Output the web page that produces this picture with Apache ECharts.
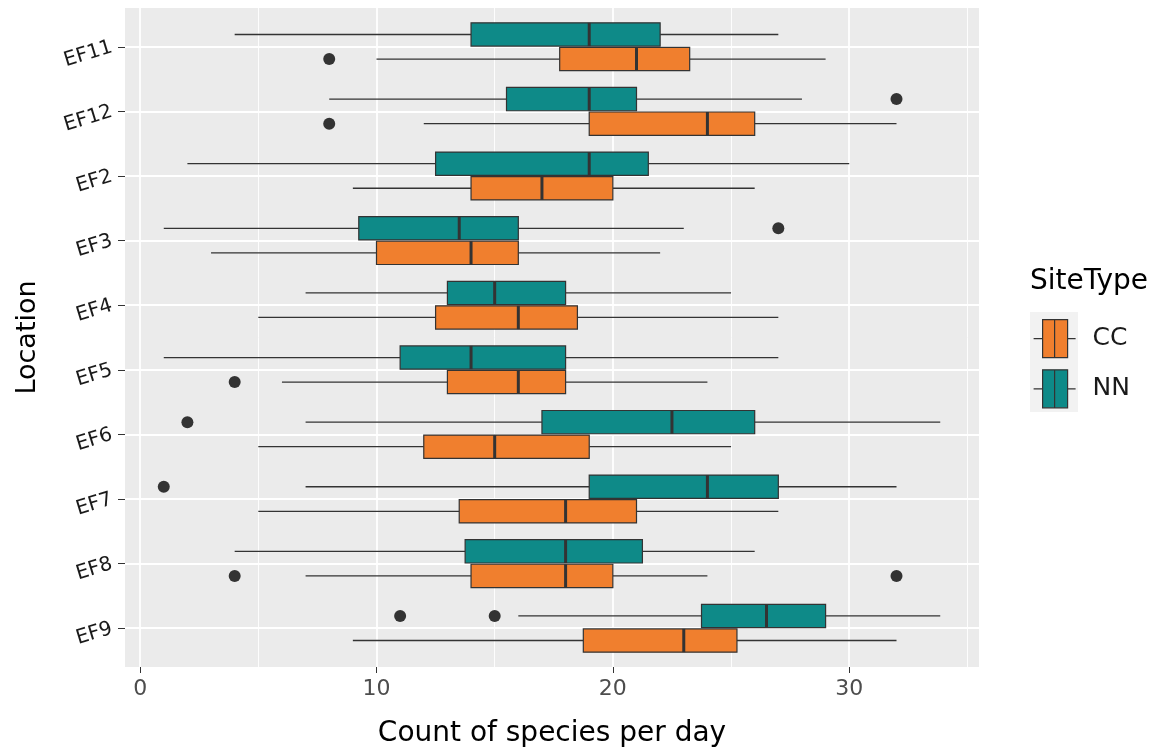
<!DOCTYPE html>
<html>
<head>
<meta charset="utf-8">
<title>Count of species per day by location</title>
<script src="https://cdn.jsdelivr.net/npm/echarts@6/dist/echarts.min.js"></script>
<style>
    html, body { margin: 0; padding: 0; background: #fff; }
    #chart { width: 1163px; height: 753px; }
</style>
</head>
<body>
<div id="chart"></div>
<script>
// locations, top to bottom
const locations = ['EF11', 'EF12', 'EF2', 'EF3', 'EF4', 'EF5', 'EF6', 'EF7', 'EF8', 'EF9'];

// [lower whisker, Q1, median, Q3, upper whisker] per location
const statsCC = [
    [10, 17.75, 21, 23.25, 29],
    [12, 19, 24, 26, 32],
    [9, 14, 17, 20, 26],
    [3, 10, 14, 16, 22],
    [5, 12.5, 16, 18.5, 27],
    [6, 13, 16, 18, 24],
    [5, 12, 15, 19, 25],
    [5, 13.5, 18, 21, 27],
    [7, 14, 18, 20, 24],
    [9, 18.75, 23, 25.25, 32]
];
const statsNN = [
    [4, 14, 19, 22, 27],
    [8, 15.5, 19, 21, 28],
    [2, 12.5, 19, 21.5, 30],
    [1, 9.25, 13.5, 16, 23],
    [7, 13, 15, 18, 25],
    [1, 11, 14, 18, 27],
    [7, 17, 22.5, 26, 33.85],
    [7, 19, 24, 27, 32],
    [4, 13.75, 18, 21.25, 26],
    [16, 23.75, 26.5, 29, 33.85]
];

// outliers as [location, value]
const outliersCC = [['EF11', 8], ['EF12', 8], ['EF5', 4], ['EF8', 4], ['EF8', 32]];
const outliersNN = [['EF12', 32], ['EF3', 27], ['EF6', 2], ['EF7', 1], ['EF9', 11], ['EF9', 15]];

const xMajor = [0, 10, 20, 30];
const xMinor = [5, 15, 25, 35];

const colorCC = '#F07F2E';
const colorNN = '#0E8A88';
const ink = '#333333';
const font = 'DejaVu Sans';

// dodge: NN sits above the tick, CC below
const dodge = 0.19;
const boxWidth = 0.36;

function boxRenderer(offset) {
    return function (params, api) {
        let y = api.value(0) + offset;
        let lo = api.coord([api.value(1), y]);
        let q1 = api.coord([api.value(2), y]);
        let md = api.coord([api.value(3), y]);
        let q3 = api.coord([api.value(4), y]);
        let hi = api.coord([api.value(5), y]);
        let h = api.size([0, boxWidth])[1];
        let mid = lo[1];
        return {
            type: 'group',
            children: [
                { type: 'line', shape: { x1: lo[0], y1: mid, x2: q1[0], y2: mid }, style: { stroke: ink, lineWidth: 1.3 } },
                { type: 'line', shape: { x1: q3[0], y1: mid, x2: hi[0], y2: mid }, style: { stroke: ink, lineWidth: 1.3 } },
                { type: 'rect', shape: { x: q1[0], y: mid - h / 2, width: q3[0] - q1[0], height: h }, style: { fill: api.visual('color'), stroke: ink, lineWidth: 1.2 } },
                { type: 'line', shape: { x1: md[0], y1: mid - h / 2, x2: md[0], y2: mid + h / 2 }, style: { stroke: ink, lineWidth: 3 } }
            ]
        };
    };
}

function boxData(stats) {
    return stats.map((s, i) => [i].concat(s));
}

function outlierData(list, offset) {
    return list.map(e => [e[1], locations.indexOf(e[0]) + offset]);
}

const boxIcon = 'path://M0,19H9M9,0H21V38H9ZM21,0H34V38H21ZM34,19H42';

let chart = echarts.init(document.getElementById('chart'));

let option = {
    animation: false,
    title: {
        text: 'SiteType',
        left: 1025,
        top: 263,
        textStyle: { fontFamily: font, fontSize: 28, fontWeight: 'normal', color: '#000' }
    },
    graphic: [
        { type: 'rect', left: 1030, top: 312, shape: { width: 48, height: 100 }, style: { fill: '#F2F2F2' }, z: -1 }
    ],
    legend: {
        orient: 'vertical',
        left: 1028,
        top: 314,
        itemWidth: 42,
        itemHeight: 38,
        itemGap: 11,
        textStyle: { fontFamily: font, fontSize: 25, color: '#1a1a1a', padding: [0, 0, 0, 12] },
        data: [
            { name: 'CC', icon: boxIcon, itemStyle: { color: colorCC, borderColor: ink, borderWidth: 1.2 } },
            { name: 'NN', icon: boxIcon, itemStyle: { color: colorNN, borderColor: ink, borderWidth: 1.2 } }
        ]
    },
    grid: {
        left: 125,
        top: 8,
        width: 854,
        height: 660,
        show: true,
        backgroundColor: '#EBEBEB',
        borderWidth: 0
    },
    xAxis: [
        {
            type: 'value',
            min: -0.64,
            max: 35.49,
            name: 'Count of species per day',
            nameLocation: 'middle',
            nameGap: 53,
            nameTextStyle: { fontFamily: font, fontSize: 28, color: '#000' },
            axisLine: { show: false, onZero: false },
            axisTick: { show: true, length: 6, lineStyle: { color: ink }, customValues: xMajor },
            axisLabel: { customValues: xMajor, margin: 11, fontFamily: font, fontSize: 22, color: '#4D4D4D' },
            splitLine: { show: true, lineStyle: { color: '#fff', width: 1.8 } }
        },
        {
            type: 'value',
            min: -0.64,
            max: 35.49,
            axisLine: { show: false, onZero: false },
            axisTick: { show: false, customValues: xMinor },
            axisLabel: { show: false, customValues: xMinor },
            splitLine: { show: true, lineStyle: { color: '#fff', width: 0.9 } }
        }
    ],
    yAxis: {
        type: 'value',
        min: -0.6,
        max: 9.6,
        inverse: true,
        name: 'Location',
        nameLocation: 'middle',
        nameGap: 84,
        nameRotate: 90,
        nameTextStyle: { fontFamily: font, fontSize: 27, color: '#000' },
        axisLine: { show: false, onZero: false },
        axisTick: { show: true, length: 7, lineStyle: { color: ink }, customValues: locations.map((l, i) => i) },
        axisLabel: {
            customValues: locations.map((l, i) => i),
            formatter: v => locations[Math.round(v)],
            rotate: 17,
            margin: 13,
            fontFamily: font,
            fontSize: 20,
            color: '#1a1a1a'
        },
        splitLine: { show: true, lineStyle: { color: '#fff', width: 1.8 } }
    },
    series: [
        {
            name: 'NN',
            type: 'custom',
            renderItem: boxRenderer(-dodge),
            itemStyle: { color: colorNN },
            encode: { x: [1, 2, 3, 4, 5], y: 0 },
            data: boxData(statsNN),
            z: 3
        },
        {
            name: 'CC',
            type: 'custom',
            renderItem: boxRenderer(dodge),
            itemStyle: { color: colorCC },
            encode: { x: [1, 2, 3, 4, 5], y: 0 },
            data: boxData(statsCC),
            z: 3
        },
        {
            name: 'NN outliers',
            type: 'scatter',
            symbolSize: 12,
            itemStyle: { color: ink, opacity: 1 },
            data: outlierData(outliersNN, -dodge),
            z: 4
        },
        {
            name: 'CC outliers',
            type: 'scatter',
            symbolSize: 12,
            itemStyle: { color: ink, opacity: 1 },
            data: outlierData(outliersCC, dodge),
            z: 4
        }
    ]
};

chart.setOption(option);
</script>
</body>
</html>
